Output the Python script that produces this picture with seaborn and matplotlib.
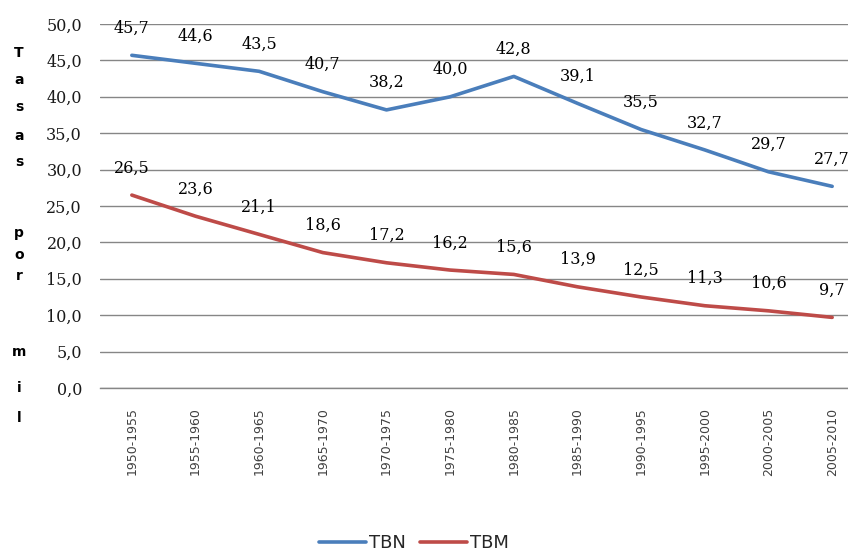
import matplotlib
matplotlib.use("Agg")
import matplotlib.pyplot as plt
import seaborn as sns
import pandas as pd
from matplotlib.ticker import FuncFormatter, MultipleLocator

periods = ["1950-1955", "1955-1960", "1960-1965", "1965-1970", "1970-1975", "1975-1980",
           "1980-1985", "1985-1990", "1990-1995", "1995-2000", "2000-2005", "2005-2010"]
tbn = [45.7, 44.6, 43.5, 40.7, 38.2, 40.0, 42.8, 39.1, 35.5, 32.7, 29.7, 27.7]
tbm = [26.5, 23.6, 21.1, 18.6, 17.2, 16.2, 15.6, 13.9, 12.5, 11.3, 10.6, 9.7]
series_names = ["TBN", "TBM"]
colors = ["#4A7EBB", "#BE4B48"]
ylabel_letters = ["T", "a", "s", "a", "s", "p", "o", "r", "m", "i", "l"]

df = pd.DataFrame({
    "periodo": periods * 2,
    "tasa": tbn + tbm,
    "serie": [series_names[0]] * len(periods) + [series_names[1]] * len(periods),
})

sns.set_theme(style="white")
W, H = 848, 556
fig = plt.figure(figsize=(W / 100, H / 100), dpi=100)
left, right, top, bottom = 100, 864, 24, 388
ax = fig.add_axes([left / W, 1 - bottom / H, (right - left) / W, (bottom - top) / H])

sns.lineplot(data=df, x="periodo", y="tasa", hue="serie", hue_order=series_names,
             palette=colors, linewidth=2.6, sort=False, ax=ax, legend=False)

ax.set_ylim(0, 50)
ax.set_xlim(-0.5, len(periods) - 0.5)
ax.yaxis.set_major_locator(MultipleLocator(5))
ax.yaxis.set_major_formatter(FuncFormatter(lambda v, p: f"{v:.1f}".replace(".", ",")))
ax.grid(axis="y", color="#868686", linewidth=1.0)
ax.grid(axis="x", visible=False)
ax.set_axisbelow(True)
for s in ax.spines.values():
    s.set_visible(False)
ax.spines["bottom"].set_visible(True)
ax.spines["bottom"].set_color("#868686")
ax.spines["bottom"].set_linewidth(1.0)
ax.set_xlabel("")
ax.set_ylabel("")
ax.set_xticks(range(len(periods)))
ax.set_xticklabels(periods, rotation=90, fontsize=9, color="#404040", family="DejaVu Sans")
ax.tick_params(axis="x", length=0, pad=14)
ax.tick_params(axis="y", length=0, pad=13, labelsize=11.5, labelcolor="#1a1a1a")
for lab in ax.get_yticklabels():
    lab.set_family("DejaVu Serif")

for vals in (tbn, tbm):
    for i, v in enumerate(vals):
        ax.annotate(f"{v:.1f}".replace(".", ","), (i, v), xytext=(0, 19.5),
                    textcoords="offset points", ha="center", va="center",
                    fontsize=11.5, family="DejaVu Serif", color="black")

letter_y = [53, 80, 107, 136, 162, 233, 255, 276, 352, 388, 418]
for ch, yy in zip(ylabel_letters, letter_y):
    fig.text(19 / W, 1 - yy / H, ch, ha="center", va="center", fontsize=10,
             fontweight="bold", color="black", family="DejaVu Sans")

handles = [plt.Line2D([], [], color=c, linewidth=2.6) for c in colors]
fig.legend(handles, series_names, loc="center", bbox_to_anchor=(414 / W, 1 - 543 / H),
           ncol=2, frameon=False, fontsize=13, handlelength=2.6, handletextpad=0.15,
           columnspacing=0.8, labelcolor="#262626")

fig.savefig("out.png", dpi=100)
